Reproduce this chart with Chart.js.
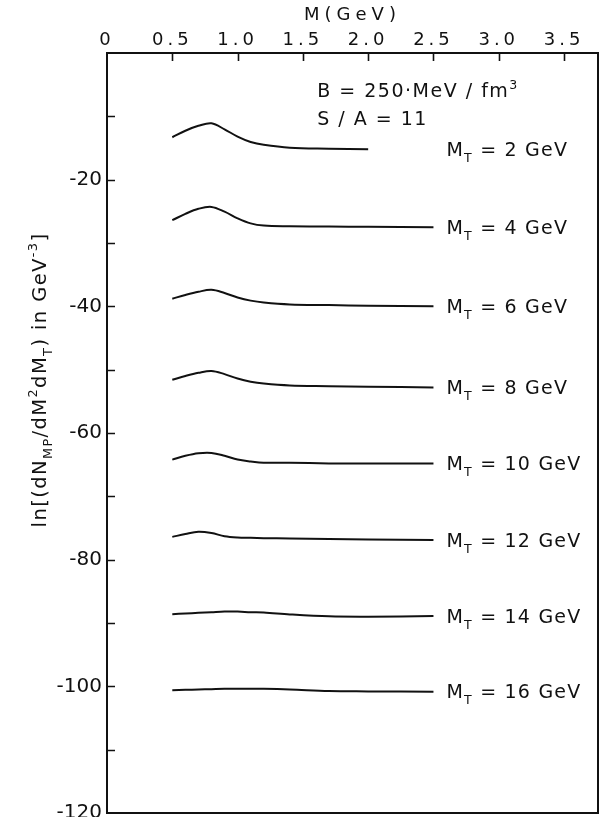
<!DOCTYPE html>
<html><head><meta charset="utf-8">
<script src="https://cdn.jsdelivr.net/npm/chart.js@4/dist/chart.umd.min.js"></script>
<style>html,body{margin:0;padding:0;background:#fff}#wrap{width:602px;height:817px;position:relative}</style>
</head><body><div id="wrap"><canvas id="c"></canvas></div>
<script>
// ---- data ----
const massGrid    = [0.5,0.6,0.7,0.8,0.9,1.0,1.1,1.2,1.4,1.7,2.0,2.5];
const massGridMT2 = [0.5,0.6,0.7,0.8,0.9,1.0,1.1,1.2,1.4,1.7,2.0];
const mtValues = [2,4,6,8,10,12,14,16];
const lnMT2  = [-13.3,-12.27,-11.5,-11.1,-12.05,-13.2,-14.05,-14.5,-14.95,-15.1,-15.2];
const lnMT4  = [-26.4,-25.4,-24.6,-24.3,-25.05,-26.1,-26.9,-27.25,-27.35,-27.4,-27.45,-27.5];
const lnMT6  = [-38.8,-38.2,-37.7,-37.4,-37.9,-38.6,-39.1,-39.4,-39.7,-39.8,-39.9,-40.0];
const lnMT8  = [-51.6,-51.0,-50.5,-50.2,-50.7,-51.4,-51.9,-52.2,-52.5,-52.6,-52.7,-52.8];
const lnMT10 = [-64.2,-63.6,-63.2,-63.15,-63.6,-64.2,-64.5,-64.7,-64.7,-64.8,-64.8,-64.8];
const lnMT12 = [-76.4,-75.95,-75.6,-75.8,-76.3,-76.5,-76.55,-76.6,-76.65,-76.75,-76.8,-76.9];
const lnMT14 = [-88.6,-88.5,-88.4,-88.3,-88.2,-88.2,-88.3,-88.35,-88.65,-88.95,-89.0,-88.9];
const lnMT16 = [-100.6,-100.55,-100.5,-100.45,-100.4,-100.4,-100.4,-100.4,-100.5,-100.75,-100.8,-100.85];
const xTickLabels = ['0','0.5','1.0','1.5','2.0','2.5','3.0','3.5'];
const yTickLabels = ['-20','-40','-60','-80','-100','-120'];
const xAxisTitle = 'M(GeV)';
const yAxisTitle = [{t:'ln[(dN'},{t:'MP',s:'sub'},{t:'/dM'},{t:'2',s:'sup'},{t:'dM'},{t:'T',s:'sub'},{t:') in GeV'},{t:'-3',s:'sup'},{t:']'}];
const noteLine1 = [{t:'B = 250·MeV / fm'},{t:'3',s:'sup'}];
const noteLine2 = [{t:'S / A = 11'}];

const curves = [
  {mt:2, m:massGridMT2, v:lnMT2},{mt:4, m:massGrid, v:lnMT4},{mt:6, m:massGrid, v:lnMT6},{mt:8, m:massGrid, v:lnMT8},
  {mt:10, m:massGrid, v:lnMT10},{mt:12, m:massGrid, v:lnMT12},{mt:14, m:massGrid, v:lnMT14},{mt:16, m:massGrid, v:lnMT16}
];

const FAM = '"DejaVu Sans"';
const INK = '#111';

function drawRich(ctx, x, y, segs, size, ls, align){
  ctx.save();
  ctx.letterSpacing = ls + 'px';
  ctx.textAlign = 'left'; ctx.textBaseline = 'alphabetic'; ctx.fillStyle = INK;
  const parts = []; let w = 0;
  for (const s of segs){
    const fs = s.s ? size*0.66 : size;
    ctx.font = fs + 'px ' + FAM;
    const mw = ctx.measureText(s.t).width;
    parts.push({t:s.t, s:s.s, fs, w:mw}); w += mw;
  }
  let cx = align === 'center' ? x - w/2 : x;
  for (const p of parts){
    ctx.font = p.fs + 'px ' + FAM;
    const dy = p.s === 'sub' ? size*0.32 : (p.s === 'sup' ? -size*0.45 : 0);
    ctx.fillText(p.t, cx, y + dy);
    cx += p.w;
  }
  ctx.restore();
  return w;
}

const framePlugin = {
  id: 'frame',
  beforeDraw(chart){
    const s = chart.scales.x;
    if (!s._lsWrapped){
      const dl = s.drawLabels, dt = s.drawTitle;
      s.drawLabels = function(a){ const c=this.ctx; c.save(); c.letterSpacing='4px'; dl.call(this,a); c.restore(); };
      s.drawTitle = function(){ const c=this.ctx; c.save(); c.letterSpacing='5px'; dt.call(this); c.restore(); };
      s._lsWrapped = true;
    }
  },
  afterDraw(chart){
    const {ctx, chartArea:a, scales:{x, y}} = chart;
    ctx.save();
    ctx.strokeStyle = INK; ctx.lineWidth = 2;
    ctx.strokeRect(a.left, a.top, a.right - a.left, a.bottom - a.top);
    ctx.lineWidth = 1.6;
    ctx.beginPath();
    for (const t of y.ticks){
      if (t.value <= y.min || t.value >= y.max) continue;
      const py = Math.round(y.getPixelForValue(t.value)) + 0.5;
      ctx.moveTo(a.left, py); ctx.lineTo(a.left + 8, py);
    }
    for (const l of xTickLabels){
      const v = parseFloat(l);
      if (v <= x.min) continue;
      const px = Math.round(x.getPixelForValue(v)) + 0.5;
      ctx.moveTo(px, a.top); ctx.lineTo(px, a.top + 8);
    }
    ctx.stroke();
    ctx.restore();

    // curve labels
    for (const c of curves){
      const py = y.getPixelForValue(c.v[c.v.length-1]);
      const px = x.getPixelForValue(2.6);
      drawRich(ctx, px, py + 6.5, [{t:'M'},{t:'T',s:'sub'},{t:' = ' + c.mt + ' GeV'}], 19, 1.2, 'left');
    }
    // notes
    const nx = x.getPixelForValue(1.61);
    drawRich(ctx, nx, y.getPixelForValue(-7.0), noteLine1, 19, 1.5, 'left');
    drawRich(ctx, nx, y.getPixelForValue(-11.4), noteLine2, 19, 1.5, 'left');
    // y title
    ctx.save();
    ctx.translate(46, 380);
    ctx.rotate(-Math.PI/2);
    drawRich(ctx, 0, 0, yAxisTitle, 19.5, 1.4, 'center');
    ctx.restore();
  }
};

new Chart(document.getElementById('c'), {
  type: 'line',
  data: {
    datasets: curves.map(c => ({
      label: 'MT=' + c.mt,
      data: c.m.map((m,i) => ({x:m, y:c.v[i]})),
      borderColor: INK, borderWidth: 2, pointRadius: 0, fill: false,
      tension: 0.35
    }))
  },
  options: {
    responsive: true, maintainAspectRatio: false, animation: false,
    layout: {padding: {left:0, top:0, right:4, bottom:4}},
    plugins: {legend:{display:false}, tooltip:{enabled:false}},
    events: [],
    scales: {
      x: {
        type: 'linear', position: 'top', min: 0, max: 3.76,
        grid: {display:false, drawTicks:false}, border: {display:false},
        afterBuildTicks(s){ s.ticks = xTickLabels.map(l => ({value: parseFloat(l)})); },
        ticks: {
          autoSkip: false, maxRotation: 0, padding: 2, color: INK,
          font: {family: 'DejaVu Sans', size: 18},
          callback: (v) => { const l = xTickLabels.find(s => Math.abs(parseFloat(s) - v) < 1e-6); return l === undefined ? '' : l; }
        },
        title: {display: true, text: xAxisTitle, color: INK, font: {family: 'DejaVu Sans', size: 18}, padding: {top: 5, bottom: 0}},
        afterFit(s){ s.height = 53; s.paddingLeft = 0; s.paddingRight = 0; }
      },
      y: {
        type: 'linear', min: -120, max: 0,
        grid: {display:false, drawTicks:false}, border: {display:false},
        ticks: {
          stepSize: 10, autoSkip: false, padding: 5, color: INK,
          font: {family: 'DejaVu Sans', size: 20},
          callback: (v) => yTickLabels.includes(String(v)) ? String(v) : ''
        },
        afterFit(s){ s.width = 107; s.paddingTop = 0; s.paddingBottom = 0; }
      }
    }
  },
  plugins: [framePlugin]
});
</script>
</body></html>
